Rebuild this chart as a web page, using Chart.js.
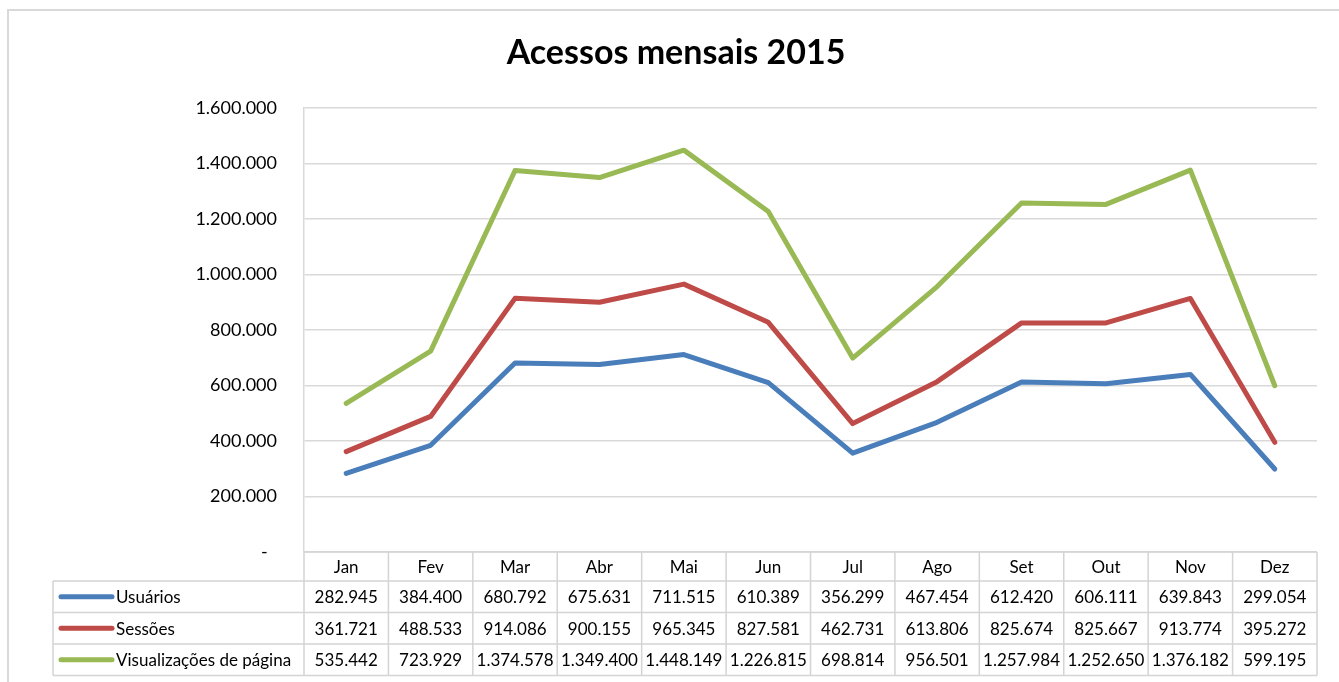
<!DOCTYPE html>
<html>
<head>
<meta charset="utf-8">
<script src="https://cdn.jsdelivr.net/npm/chart.js@4.4.1/dist/chart.umd.min.js"></script>
<style>
html,body{margin:0;padding:0;background:#fff;}
#wrap{position:relative;width:1339px;height:682px;}
</style>
</head>
<body>
<div id="wrap"><canvas id="c" width="1339" height="682"></canvas></div>
<script>
const titleText = "Acessos mensais 2015";
const categories = ["Jan","Fev","Mar","Abr","Mai","Jun","Jul","Ago","Set","Out","Nov","Dez"];
const seriesNames = ["Usuários","Sessões","Visualizações de página"];
const usuarios = [282945,384400,680792,675631,711515,610389,356299,467454,612420,606111,639843,299054];
const sessoes = [361721,488533,914086,900155,965345,827581,462731,613806,825674,825667,913774,395272];
const visualizacoes = [535442,723929,1374578,1349400,1448149,1226815,698814,956501,1257984,1252650,1376182,599195];
const yTicks = [0,200000,400000,600000,800000,1000000,1200000,1400000,1600000];
const colors = ["#4A7EBB","#BE4B48","#98B954"];

const FONT = "Lato, 'Liberation Sans', sans-serif";
function fmt(v){
  if (v === 0) return "-  ";
  return v.toString().replace(/\B(?=(\d{3})+(?!\d))/g, ".");
}

const allSeries = [usuarios, sessoes, visualizacoes];

const tablePlugin = {
  id: 'tablePlugin',
  beforeDraw(chart){
    const ctx = chart.ctx;
    ctx.save();
    ctx.fillStyle = "#fff";
    ctx.fillRect(0,0,chart.width,chart.height);
    ctx.strokeStyle = "#D9D9D9";
    ctx.lineWidth = 2;
    ctx.strokeRect(8, 10, 1400, 700);
    ctx.restore();
  },
  afterDraw(chart){
    const ctx = chart.ctx;
    const xs = chart.scales.x;
    const area = chart.chartArea;
    const n = categories.length;
    const colW = (area.right - area.left) / n;
    const top = area.bottom;
    const rowY = [top, 581, 612.5, 644, 675.5];
    const legendLeft = 53;
    ctx.save();
    // title
    ctx.fillStyle = "#000";
    ctx.font = "bold 34px " + FONT;
    ctx.textAlign = "center";
    ctx.textBaseline = "middle";
    ctx.fillText(titleText, 676, 53);

    // grid lines of table
    ctx.strokeStyle = "#D4D4D4";
    ctx.lineWidth = 1.5;
    ctx.beginPath();
    ctx.moveTo(area.left, rowY[0]); ctx.lineTo(area.right, rowY[0]);
    for (let r = 1; r < rowY.length; r++){
      ctx.moveTo(legendLeft, rowY[r]); ctx.lineTo(area.right, rowY[r]);
    }
    ctx.moveTo(legendLeft, rowY[1]); ctx.lineTo(legendLeft, rowY[4]);
    for (let i = 0; i <= n; i++){
      const x = xs.getPixelForValue(0) - colW/2 + i*colW;
      ctx.moveTo(x, rowY[0]); ctx.lineTo(x, rowY[4]);
    }
    ctx.stroke();

    // headers
    ctx.fillStyle = "#000";
    ctx.font = "17px " + FONT;
    ctx.textAlign = "center";
    ctx.textBaseline = "middle";
    categories.forEach((c,i)=>{
      ctx.fillText(c, xs.getPixelForValue(i), (rowY[0]+rowY[1])/2 + 1);
    });
    // values
    allSeries.forEach((arr, s)=>{
      const cy = (rowY[s+1]+rowY[s+2])/2 + 1;
      arr.forEach((v,i)=>{
        ctx.fillText(fmt(v), xs.getPixelForValue(i), cy);
      });
      // legend key
      ctx.strokeStyle = colors[s];
      ctx.lineWidth = 5;
      ctx.lineCap = "round";
      ctx.beginPath();
      ctx.moveTo(61, cy - 1); ctx.lineTo(112, cy - 1);
      ctx.stroke();
      ctx.textAlign = "left";
      ctx.fillText(seriesNames[s], 116, cy);
      ctx.textAlign = "center";
    });
    ctx.restore();
  }
};

new Chart(document.getElementById('c'), {
  type: 'line',
  data: {
    labels: categories,
    datasets: allSeries.map((arr, s) => ({
      label: seriesNames[s],
      data: arr,
      borderColor: colors[s],
      backgroundColor: colors[s],
      borderWidth: 5,
      pointRadius: 0,
      tension: 0,
      borderCapStyle: 'round',
      borderJoinStyle: 'round',
      fill: false
    }))
  },
  options: {
    responsive: false,
    animation: false,
    devicePixelRatio: 1,
    layout: { padding: { left: 0, right: 22, top: 108, bottom: 130 } },
    plugins: { legend: { display: false }, title: { display: false }, tooltip: { enabled: false } },
    scales: {
      x: {
        type: 'category',
        offset: true,
        display: false
      },
      y: {
        min: 0,
        max: 1600000,
        afterFit(s){ s.width = 304; },
        afterBuildTicks(s){ s.ticks = yTicks.map(v => ({value: v})); },
        grid: { color: "#D9D9D9", lineWidth: 1.5, drawTicks: false },
        border: { color: "#D9D9D9", width: 1.5 },
        ticks: {
          padding: 27,
          color: "#000",
          font: { family: FONT, size: 18 },
          callback: (v) => fmt(v)
        }
      }
    }
  },
  plugins: [tablePlugin]
});
</script>
</body>
</html>
